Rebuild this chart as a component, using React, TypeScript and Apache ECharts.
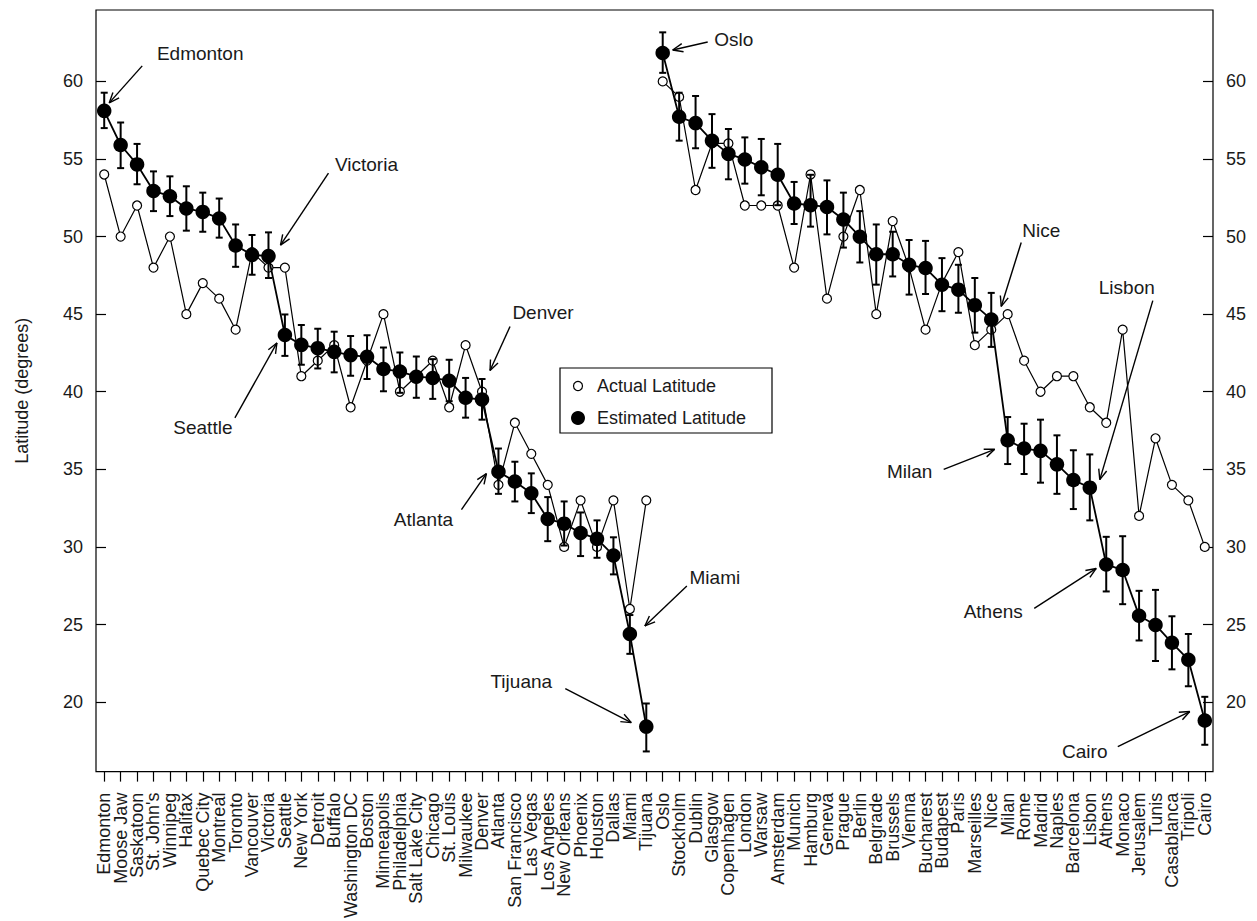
import React, { useEffect, useRef } from "react";
import * as echarts from "echarts";

const cities = [
  "Edmonton", "Moose Jaw", "Saskatoon", "St. John's", "Winnipeg", "Halifax", "Quebec City", "Montreal",
  "Toronto", "Vancouver", "Victoria", "Seattle", "New York", "Detroit", "Buffalo", "Washington DC",
  "Boston", "Minneapolis", "Philadelphia", "Salt Lake City", "Chicago", "St. Louis", "Milwaukee", "Denver",
  "Atlanta", "San Francisco", "Las Vegas", "Los Angeles", "New Orleans", "Phoenix", "Houston", "Dallas",
  "Miami", "Tijuana",
  "Oslo", "Stockholm", "Dublin", "Glasgow", "Copenhagen", "London", "Warsaw", "Amsterdam",
  "Munich", "Hamburg", "Geneva", "Prague", "Berlin", "Belgrade", "Brussels", "Vienna",
  "Bucharest", "Budapest", "Paris", "Marseilles", "Nice", "Milan", "Rome", "Madrid",
  "Naples", "Barcelona", "Lisbon", "Athens", "Monaco", "Jerusalem", "Tunis", "Casablanca",
  "Tripoli", "Cairo",
];

const actualLatitude = [
  54, 50, 52, 48, 50, 45, 47, 46, 44, 49, 48, 48, 41, 42, 43, 39,
  42, 45, 40, 41, 42, 39, 43, 40, 34, 38, 36, 34, 30, 33, 30, 33,
  26, 33,
  60, 59, 53, 56, 56, 52, 52, 52, 48, 54, 46, 50, 53, 45, 51, 48,
  44, 47, 49, 43, 44, 45, 42, 40, 41, 41, 39, 38, 44, 32, 37, 34,
  33, 30,
];

const estimatedLatitude = [
  58.1, 55.9, 54.65, 52.94, 52.6, 51.81, 51.59, 51.17, 49.42, 48.82, 48.74, 43.66, 43.02, 42.81, 42.57, 42.36,
  42.25, 41.46, 41.31, 40.97, 40.89, 40.71, 39.61, 39.5, 34.85, 34.21, 33.46, 31.8, 31.5, 30.9, 30.52, 29.45,
  24.39, 18.42,
  61.83, 57.72, 57.31, 56.18, 55.33, 54.97, 54.47, 53.98, 52.13, 52.02, 51.91, 51.1, 49.99, 48.86, 48.86, 48.18,
  47.97, 46.9, 46.58, 45.58, 44.66, 36.87, 36.34, 36.19, 35.32, 34.31, 33.82, 28.87, 28.51, 25.57, 24.97, 23.82,
  22.73, 18.81,
];

const errorLow = [
  56.99, 54.41, 53.37, 51.64, 51.32, 50.38, 50.31, 49.93, 48.05, 47.54, 47.33, 42.31, 41.74, 41.5, 41.25, 41.03,
  40.82, 40.03, 39.93, 39.61, 39.54, 39.39, 38.33, 38.2, 33.42, 32.93, 32.18, 30.37, 30.09, 29.41, 29.3, 28.23,
  23.11, 16.82,
  60.55, 56.18, 55.69, 54.43, 53.69, 53.41, 52.66, 52.02, 50.81, 50.64, 50.14, 49.29, 48.33, 46.9, 47.43, 46.26,
  46.3, 45.19, 45.09, 43.81, 42.89, 35.34, 34.7, 34.14, 33.42, 32.44, 31.71, 27.13, 26.31, 23.97, 22.65, 22.11,
  21.02, 17.25,
];

const errorHigh = [
  59.27, 57.35, 55.97, 54.2, 53.88, 53.24, 52.83, 52.45, 50.78, 50.1, 50.27, 44.98, 44.3, 44.06, 43.87, 43.59,
  43.64, 42.85, 42.53, 42.27, 42.1, 42.06, 40.89, 40.82, 36.34, 35.49, 34.74, 33.21, 32.93, 32.22, 31.71, 30.62,
  25.61, 19.91,
  63.16, 59.27, 59.06, 57.89, 56.93, 56.39, 56.29, 55.97, 53.52, 53.98, 53.62, 52.83, 51.64, 50.78, 50.31, 49.78,
  49.72, 48.61, 48.18, 47.33, 46.37, 38.37, 37.94, 38.2, 37.19, 36.23, 35.96, 30.65, 30.69, 27.17, 27.23, 25.53,
  24.39, 20.34,
];

const europeStart = 34;
const yTicks = [20, 25, 30, 35, 40, 45, 50, 55, 60];
const yMin = 15.52;
const yMax = 64.6;

const seriesNames = ["Actual Latitude", "Estimated Latitude"];

// annotation layout: offsets in pixels relative to the city's estimated point
const annotations = [
  { city: "Edmonton", text: [96, -57], tail: [38, -45], tip: [5, -8] },
  { city: "Victoria", text: [98, -92], tail: [60, -83], tip: [12, -11] },
  { city: "Seattle", text: [-82, 93], tail: [-50, 83], tip: [-8, 8] },
  { city: "Denver", text: [61, -87], tail: [28, -73], tip: [8, -29] },
  { city: "Atlanta", text: [-75, 48], tail: [-37, 38], tip: [-12, 2] },
  { city: "Miami", text: [85, -56], tail: [57, -48], tip: [15, -8] },
  { city: "Tijuana", text: [-125, -45], tail: [-81, -38], tip: [-15, -4] },
  { city: "Oslo", text: [71, -13], tail: [45, -11], tip: [10, -3] },
  { city: "Nice", text: [50, -89], tail: [30, -77], tip: [10, -13] },
  { city: "Lisbon", text: [37, -200], tail: [63, -187], tip: [10, -8] },
  { city: "Milan", text: [-98, 31], tail: [-64, 29], tip: [-13, 9] },
  { city: "Athens", text: [-113, 47], tail: [-72, 44], tip: [-10, 4] },
  { city: "Cairo", text: [-120, 31], tail: [-87, 26], tip: [-15, -9] },
];

const FONT = "'Liberation Sans', Arial, Helvetica, sans-serif";
const INK = "#1a1a1a";

export default function App() {
  const ref = useRef<HTMLDivElement>(null);

  useEffect(() => {
    if (!ref.current) return;
    const chart = echarts.init(ref.current, undefined, { renderer: "svg" });

    const pairs = (arr: number[], from: number, to: number) =>
      arr.slice(from, to).map((v, k) => [from + k, v]);

    const errData = cities.map((_, i) => [i, errorLow[i], errorHigh[i]]);

    const yAxisCommon = {
      type: "value",
      min: yMin,
      max: yMax,
      splitLine: { show: false },
      axisLine: { show: false },
      axisTick: {
        show: true,
        inside: true,
        length: 10,
        lineStyle: { color: "#000", width: 1.2 },
        customValues: yTicks,
      },
      axisLabel: {
        show: true,
        margin: 13,
        fontSize: 18,
        fontFamily: FONT,
        color: INK,
        customValues: yTicks,
      },
    };

    const actualStyle = {
      type: "line",
      name: seriesNames[0],
      symbol: "circle",
      symbolSize: 9,
      showSymbol: true,
      showAllSymbol: true,
      itemStyle: { color: "#fff", borderColor: "#000", borderWidth: 1.2 },
      lineStyle: { color: "#000", width: 1.2 },
      z: 2,
    };
    const estStyle = {
      type: "line",
      name: seriesNames[1],
      symbol: "circle",
      symbolSize: 14.5,
      showSymbol: true,
      showAllSymbol: true,
      itemStyle: { color: "#000" },
      lineStyle: { color: "#000", width: 1.8 },
      z: 4,
    };

    chart.setOption({
      animation: false,
      backgroundColor: "#fff",
      grid: {
        left: 96,
        right: 44,
        top: 10,
        bottom: 144,
        show: true,
        borderColor: "#000",
        borderWidth: 1.2,
        backgroundColor: "transparent",
      },
      xAxis: {
        type: "category",
        data: cities,
        boundaryGap: true,
        axisLine: { show: false },
        axisTick: {
          show: true,
          alignWithLabel: true,
          interval: 0,
          length: 10,
          lineStyle: { color: "#000", width: 1.2 },
        },
        axisLabel: {
          interval: 0,
          rotate: 90,
          margin: 21,
          fontSize: 18,
          fontFamily: FONT,
          color: INK,
        },
        splitLine: { show: false },
      },
      yAxis: [
        {
          ...yAxisCommon,
          position: "left",
          name: "Latitude (degrees)",
          nameLocation: "middle",
          nameGap: 65,
          nameTextStyle: { fontSize: 18, fontFamily: FONT, color: INK },
        },
        { ...yAxisCommon, position: "right" },
      ],
      series: [
        { ...actualStyle, data: pairs(actualLatitude, 0, europeStart) },
        { ...actualStyle, data: pairs(actualLatitude, europeStart, cities.length) },
        {
          type: "custom",
          name: "error",
          data: errData,
          encode: { x: 0, y: [1, 2] },
          z: 3,
          renderItem: (params: any, api: any) => {
            const x = api.value(0);
            const lo = api.coord([x, api.value(1)]);
            const hi = api.coord([x, api.value(2)]);
            const w = 3.5;
            const st = { stroke: "#000", lineWidth: 2 };
            return {
              type: "group",
              children: [
                { type: "line", shape: { x1: lo[0], y1: lo[1], x2: hi[0], y2: hi[1] }, style: st },
                { type: "line", shape: { x1: lo[0] - w, y1: lo[1], x2: lo[0] + w, y2: lo[1] }, style: st },
                { type: "line", shape: { x1: hi[0] - w, y1: hi[1], x2: hi[0] + w, y2: hi[1] }, style: st },
              ],
            };
          },
        },
        { ...estStyle, data: pairs(estimatedLatitude, 0, europeStart) },
        { ...estStyle, data: pairs(estimatedLatitude, europeStart, cities.length) },
      ],
    });

    // annotations with arrows, anchored to the estimated points
    const graphics: any[] = [];
    const headLen = 11;
    const headAng = (22 * Math.PI) / 180;
    annotations.forEach((a) => {
      const idx = cities.indexOf(a.city);
      const p = chart.convertToPixel({ xAxisIndex: 0, yAxisIndex: 0 }, [idx, estimatedLatitude[idx]]) as number[];
      const tx = p[0] + a.text[0];
      const ty = p[1] + a.text[1];
      const x1 = p[0] + a.tail[0];
      const y1 = p[1] + a.tail[1];
      const x2 = p[0] + a.tip[0];
      const y2 = p[1] + a.tip[1];
      const ang = Math.atan2(y1 - y2, x1 - x2);
      const lineSt = { stroke: "#000", lineWidth: 1.4 };
      graphics.push({
        type: "text",
        z: 100,
        style: {
          text: a.city,
          x: tx,
          y: ty,
          align: "center",
          verticalAlign: "middle",
          textAlign: "center",
          textVerticalAlign: "middle",
          fontSize: 19,
          fontFamily: FONT,
          fill: INK,
        },
      });
      graphics.push({ type: "line", z: 100, shape: { x1, y1, x2, y2 }, style: lineSt });
      [headAng, -headAng].forEach((d) => {
        graphics.push({
          type: "line",
          z: 100,
          shape: {
            x1: x2,
            y1: y2,
            x2: x2 + headLen * Math.cos(ang + d),
            y2: y2 + headLen * Math.sin(ang + d),
          },
          style: lineSt,
        });
      });
    });

    // legend box
    const lg = { x: 560, y: 368, w: 212, h: 65 };
    graphics.push({
      type: "rect",
      z: 100,
      shape: { x: lg.x, y: lg.y, width: lg.w, height: lg.h },
      style: { fill: "#fff", stroke: "#000", lineWidth: 1.2 },
    });
    graphics.push({
      type: "circle",
      z: 101,
      shape: { cx: lg.x + 18, cy: lg.y + 18, r: 4.5 },
      style: { fill: "#fff", stroke: "#000", lineWidth: 1.2 },
    });
    graphics.push({
      type: "circle",
      z: 101,
      shape: { cx: lg.x + 18, cy: lg.y + 50, r: 7 },
      style: { fill: "#000" },
    });
    seriesNames.forEach((n, k) => {
      graphics.push({
        type: "text",
        z: 101,
        style: {
          text: n,
          x: lg.x + 37,
          y: lg.y + 18 + k * 32,
          align: "left",
          verticalAlign: "middle",
          textAlign: "left",
          textVerticalAlign: "middle",
          fontSize: 18,
          fontFamily: FONT,
          fill: INK,
        },
      });
    });

    chart.setOption({ graphic: graphics });

    return () => chart.dispose();
  }, []);

  return (
    <div
      ref={ref}
      style={{ position: "fixed", left: 0, top: 0, width: 1257, height: 921, background: "#fff" }}
    />
  );
}
